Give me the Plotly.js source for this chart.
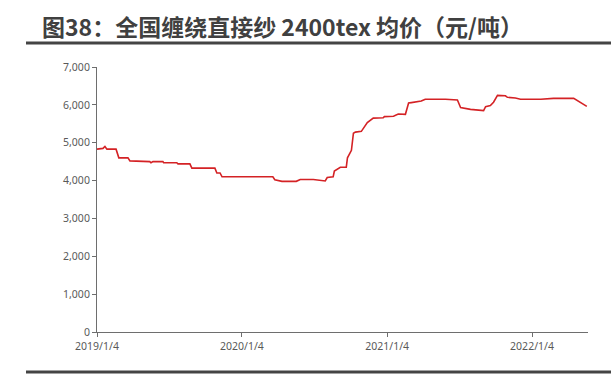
<!DOCTYPE html>
<html>
<head>
<meta charset="utf-8">
<script src="https://cdn.plot.ly/plotly-3.0.1.min.js"></script>
<style>html,body{margin:0;padding:0;background:#fff;}#chart{width:611px;height:378px;}</style>
</head>
<body>
<div id="chart"></div>
<script>
const dates = [
  '2019-01-04','2019-01-19','2019-01-24','2019-01-29','2019-02-21','2019-02-28','2019-03-23','2019-03-28',
  '2019-05-17','2019-05-20','2019-05-25','2019-06-19','2019-06-21','2019-07-24','2019-07-27','2019-08-26',
  '2019-08-31','2019-10-28','2019-11-02','2019-11-10','2019-11-15','2020-03-22','2020-03-27','2020-04-14',
  '2020-05-20','2020-05-30','2020-07-02','2020-08-01','2020-08-06','2020-08-21','2020-08-24','2020-09-08',
  '2020-09-23','2020-09-26','2020-10-06','2020-10-11','2020-10-16','2020-10-31','2020-11-15','2020-11-23',
  '2020-11-30','2020-12-25','2020-12-28','2021-01-20','2021-02-01','2021-02-19','2021-02-27','2021-03-06',
  '2021-03-31','2021-04-10','2021-05-31','2021-06-30','2021-07-08','2021-08-02','2021-08-22','2021-09-04',
  '2021-09-09','2021-09-21','2021-09-29','2021-10-09','2021-10-29','2021-11-03','2021-11-23','2021-12-06',
  '2022-01-26','2022-02-27','2022-04-19','2022-04-29','2022-05-06','2022-05-22'
];
const prices = [
  4830,4850,4900,4830,4830,4600,4600,4520,
  4500,4470,4500,4500,4470,4470,4440,4440,
  4330,4330,4200,4200,4100,4100,4020,3980,
  3980,4030,4030,3990,4080,4100,4250,4350,
  4350,4600,4800,5250,5280,5300,5530,5600,
  5650,5660,5690,5700,5760,5750,6050,6060,
  6100,6150,6150,6130,5930,5880,5850,5850,
  5950,5980,6070,6250,6240,6200,6180,6150,
  6150,6170,6170,6100,6050,5960
];
const tickVals = ['2019-01-04','2020-01-04','2021-01-04','2022-01-04'];
const tickText = ['2019/1/4','2020/1/4','2021/1/4','2022/1/4'];
const yTicks = [0,1000,2000,3000,4000,5000,6000,7000];

const axisColor = '#6e6e6e';
const trace = {
  x: dates, y: prices, type: 'scatter', mode: 'lines',
  line: {color: '#d42225', width: 1.6}, hoverinfo: 'skip'
};
const layout = {
  width: 611, height: 378,
  margin: {l: 97, r: 23, t: 67, b: 46},
  paper_bgcolor: '#fff', plot_bgcolor: '#fff',
  showlegend: false,
  title: {
    text: '图38：全国缠绕直接纱 2400tex 均价（元/吨）',
    x: 42/611, xanchor: 'left', xref: 'container',
    y: 1 - 28/378, yanchor: 'middle', yref: 'container',
    font: {family: 'Noto Sans CJK SC, sans-serif', size: 23, color: '#404040', weight: 'bold'}
  },
  xaxis: {
    type: 'date', range: ['2019-01-04', '2022-05-25'],
    tickvals: tickVals, ticktext: tickText,
    showgrid: false, zeroline: false,
    showline: true, linecolor: axisColor, linewidth: 1,
    ticks: 'outside', ticklen: 4, tickcolor: axisColor,
    tickfont: {family: 'Noto Sans, sans-serif', size: 10.5, color: '#595959'}
  },
  yaxis: {
    range: [0, 7000], tickvals: yTicks, tickformat: ',',
    showgrid: false, zeroline: false,
    showline: true, linecolor: axisColor, linewidth: 1,
    ticks: 'outside', ticklen: 4, tickcolor: axisColor,
    tickfont: {family: 'Noto Sans, sans-serif', size: 10.5, color: '#595959'}
  },
  shapes: [
    {type: 'line', xref: 'paper', yref: 'paper', x0: (26-97)/491, x1: (611-97)/491,
     y0: (332-43)/265, y1: (332-43)/265, line: {color: '#444', width: 3}},
    {type: 'line', xref: 'paper', yref: 'paper', x0: (26-97)/491, x1: (611-97)/491,
     y0: (332-372)/265, y1: (332-372)/265, line: {color: '#444', width: 3}}
  ]
};
Plotly.newPlot('chart', [trace], layout, {staticPlot: true, displayModeBar: false});
</script>
</body>
</html>
